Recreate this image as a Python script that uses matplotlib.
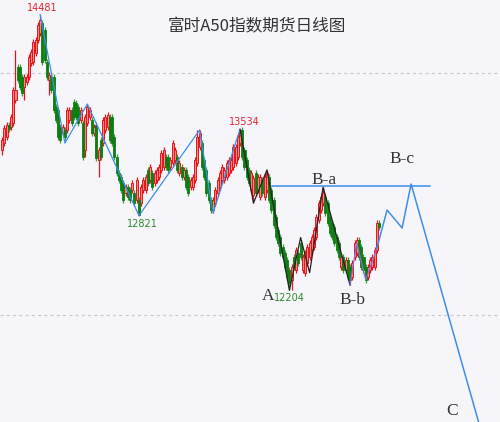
import matplotlib
matplotlib.use("Agg")
import matplotlib.pyplot as plt
import numpy as np

plt.rcParams['font.family'] = ['Noto Sans CJK SC', 'DejaVu Sans']

title = "富时A50指数期货日线图"

opens = [13363,13421,13470,13569,13553,13586,13776,14049,14049,13966,
         13883,13925,13966,14082,14090,14164,14272,14329,14412,14354,
         14090,13941,13966,13966,13718,13693,13553,13503,13528,13528,
         13611,13693,13759,13751,13718,13611,13586,13363,13586,13636,
         13611,13503,13569,13280,13446,13421,13528,13553,13636,13636,
         13470,13305,13173,13140,13090,13008,13057,13033,13033,13008,
         12950,12950,12925,13033,13033,13198,13115,13173,13090,13115,
         13140,13198,13223,13305,13305,13223,13256,13280,13305,13173,
         13223,13140,13198,13140,13057,13057,13115,13256,13388,13421,
         13280,13198,13090,12950,12867,12925,13008,13057,13115,13115,
         13140,13173,13198,13223,13256,13305,13421,13528,13363,13280,
         13198,13033,12991,13173,13033,12975,13115,12975,13033,13140,
         13033,12950,12810,12702,12644,12562,12512,12454,12372,12289,
         12479,12372,12512,12595,12372,12347,12430,12479,12537,12562,
         12644,12785,12867,12925,12975,12925,12810,12760,12727,12644,
         12595,12397,12479,12372,12454,12397,12314,12479,12512,12620,
         12562,12479,12397,12314,12372,12397,12397,12537,12760]
highs = [13470,13569,13595,13595,13660,13883,14189,14073,14073,13991,
         13991,13991,14156,14197,14280,14296,14420,14481,14437,14380,
         14115,14007,13991,13991,13743,13718,13578,13578,13553,13718,
         13718,13718,13784,13776,13743,13718,13611,13660,13743,13718,
         13636,13578,13595,13388,13470,13636,13660,13677,13660,13660,
         13495,13330,13198,13165,13115,13082,13082,13057,13115,13033,
         13140,12975,13082,13140,13165,13223,13247,13198,13198,13223,
         13247,13363,13388,13330,13330,13305,13446,13388,13330,13280,
         13247,13223,13223,13165,13140,13165,13305,13528,13528,13446,
         13305,13223,13115,12975,12975,13057,13140,13198,13247,13223,
         13280,13305,13305,13413,13413,13495,13534,13553,13388,13305,
         13223,13198,13157,13198,13165,13165,13140,13165,13198,13165,
         13057,12975,12834,12727,12669,12587,12537,12479,12397,12421,
         12504,12562,12537,12620,12504,12537,12587,12620,12669,12727,
         12834,12950,13000,13057,13000,12950,12834,12785,12752,12669,
         12620,12504,12504,12479,12479,12421,12454,12620,12644,12644,
         12587,12504,12421,12421,12479,12504,12562,12785,12785]
lows = [13322,13396,13446,13512,13528,13561,13751,13916,13859,13809,
        13776,13900,13941,14057,14065,14139,14247,14305,14065,14082,
        13941,13817,13834,13669,13586,13446,13421,13479,13446,13503,
        13586,13561,13611,13611,13561,13586,13280,13305,13561,13611,
        13479,13479,13272,13140,13280,13396,13503,13528,13421,13396,
        13280,13148,13090,13008,12925,12983,12950,12925,13008,12900,
        12925,12821,12900,13008,13008,13066,13090,13033,13066,13090,
        13115,13173,13198,13198,13173,13198,13231,13256,13173,13148,
        13115,13115,13033,12983,13033,13033,13090,13231,13363,13198,
        13115,12983,12925,12843,12843,12900,12983,13033,13090,13090,
        13115,13148,13173,13198,13231,13280,13396,13280,13198,13115,
        13066,13008,12925,12983,13008,12950,12983,12950,13008,12925,
        12843,12719,12620,12570,12487,12454,12372,12289,12204,12207,
        12372,12347,12405,12454,12347,12322,12405,12454,12512,12537,
        12620,12760,12843,12900,12818,12735,12653,12620,12570,12512,
        12454,12372,12347,12347,12289,12248,12289,12454,12487,12454,
        12372,12347,12264,12289,12347,12372,12372,12512,12702]
closes = [13446,13545,13569,13536,13636,13859,13859,13941,13883,13834,
          13966,13966,14131,14172,14255,14272,14395,14437,14090,14106,
          13966,13982,13859,13693,13611,13470,13446,13553,13470,13693,
          13693,13586,13636,13636,13586,13693,13305,13636,13718,13693,
          13503,13553,13297,13363,13305,13611,13636,13652,13446,13421,
          13305,13173,13115,13033,12950,13057,12975,12950,13090,12925,
          13115,12826,13057,13115,13140,13090,13223,13057,13173,13198,
          13223,13338,13363,13223,13198,13280,13421,13363,13198,13256,
          13140,13198,13057,13008,13115,13140,13280,13470,13503,13223,
          13140,13008,12950,12867,12950,13033,13115,13173,13223,13198,
          13256,13280,13280,13388,13388,13470,13528,13305,13223,13140,
          13090,13173,13132,13008,13140,13140,13008,13140,13173,12950,
          12867,12744,12644,12595,12512,12479,12397,12314,12264,12397,
          12397,12537,12430,12479,12479,12512,12562,12595,12644,12702,
          12810,12925,12975,13008,12843,12760,12677,12644,12595,12537,
          12479,12479,12372,12454,12314,12289,12430,12595,12620,12479,
          12397,12372,12289,12397,12454,12479,12537,12760,12727]

# wave-count lines: (candle index, price)
wave1_x = [17, 28, 38, 61, 88, 94, 106]
wave1_y = [14481, 13420, 13743, 12821, 13528, 12843, 13534]
wave2_x = [106, 112, 118, 128, 133, 137, 143, 155]
wave2_y = [13534, 12925, 13198, 12204, 12640, 12350, 13057, 12248]
wave3_x = [155, 158, 162, 167]
wave3_y = [12248, 12595, 12290, 12554]
proj_x = [167, 171.5, 178.2, 182.2, 212.5]
proj_y = [12554, 12867, 12719, 13082, 11100]
level_price = 13066
level_x = [120.3, 190.6]

peak_labels = [("14481", 17.8, 14536, "#e3262e"), ("13534", 107.8, 13594, "#e3262e"),
               ("12821", 62.4, 12752, "#2e8b2e"), ("12204", 127.8, 12140, "#2e8b2e")]
wave_labels = [("A", 118.5, 12157), ("B-a", 143.5, 13115), ("B-b", 156.0, 12125),
               ("B-c", 178.3, 13285), ("C", 200.5, 11210)]
grid_prices = [14000, 12000]

bg = "#f5f5fa"
fig = plt.figure(figsize=(5.0, 4.22), dpi=100, facecolor=bg)
ax = fig.add_axes([0, 0, 1, 1])
ax.set_facecolor(bg)
ax.set_xlim(-0.9, 221.8)
ax.set_ylim(11116, 14602)
ax.axis("off")

for gp in grid_prices:
    ax.axhline(gp, color="#c8c8d0", lw=0.9, ls=(0, (2.5, 2.5)), zorder=0)

o = np.array(opens); c = np.array(closes); h = np.array(highs); l = np.array(lows)
x = np.arange(len(o))
up = c >= o
red_edge = "#e3161c"
red_fill = "#f28a8a"
green = "#0e7d12"
ax.vlines(x[up], l[up], h[up], color=red_edge, lw=0.9, zorder=2)
ax.vlines(x[~up], l[~up], h[~up], color="#3c9a3c", lw=0.9, zorder=2)
ax.bar(x[up], c[up] - o[up], bottom=o[up], width=0.9, color=red_fill,
       edgecolor=red_edge, lw=0.7, zorder=3)
ax.bar(x[~up], o[~up] - c[~up], bottom=c[~up], width=0.9, color=green,
       edgecolor=green, lw=0.6, zorder=3)

blue = "#3d8fe8"
ax.plot(wave1_x, wave1_y, color=blue, lw=0.9, zorder=4)
ax.plot(wave2_x, wave2_y, color="#222222", lw=0.9, zorder=4)
ax.plot(wave3_x, wave3_y, color="#8a6fd8", lw=0.9, zorder=4)
ax.plot(proj_x, proj_y, color=blue, lw=1.1, zorder=4)
ax.plot(level_x, [level_price, level_price], color=blue, lw=1.1, zorder=4)

for t, xx, yy, col in peak_labels:
    ax.text(xx, yy, t, color=col, fontsize=7, ha="center", va="center",
            family=["DejaVu Sans"], zorder=6)
for t, xx, yy in wave_labels:
    ax.text(xx, yy, t, color="#333333", fontsize=12.5, ha="center", va="center",
            family=["Liberation Serif"], zorder=6)

fig.text(0.514, 1 - 27 / 422, title, color="#333333", fontsize=12,
         ha="center", va="center")

fig.savefig("out.png", dpi=100, facecolor=bg)
